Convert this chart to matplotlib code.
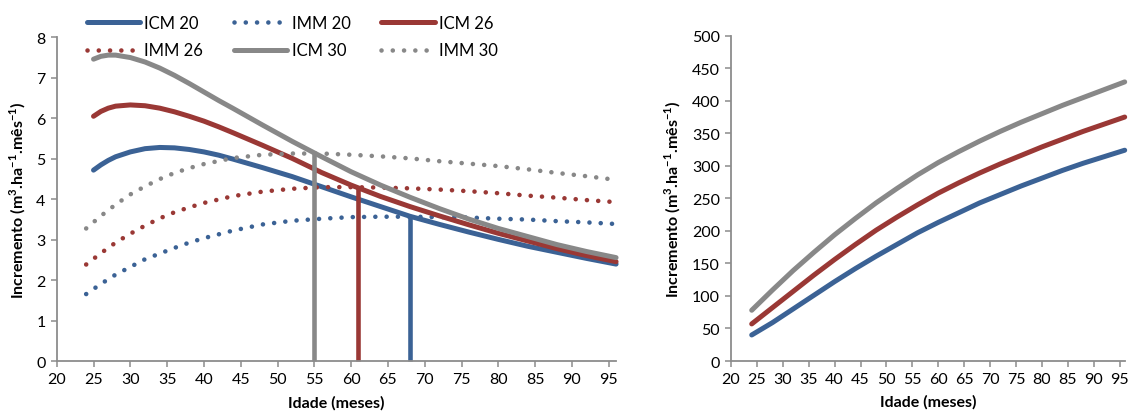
import matplotlib
matplotlib.use('Agg')
import matplotlib.pyplot as plt

plt.rcParams['font.family'] = ['Lato', 'DejaVu Sans']
plt.rcParams['mathtext.fontset'] = 'custom'
plt.rcParams['mathtext.rm'] = 'Lato'
plt.rcParams['mathtext.bf'] = 'Lato:bold'

# Idades (meses)
idade_icm = [25, 26, 27, 28, 30, 32, 34, 36, 38, 40, 42, 44, 48, 52, 56, 60, 64, 68, 72, 76, 80, 84, 88, 92, 96]
idade_imm = [24, 26, 28, 30, 32, 34, 36, 38, 40, 44, 48, 52, 56, 60, 64, 68, 72, 76, 80, 84, 88, 92, 96]
idade_prod = [24, 28, 32, 36, 40, 44, 48, 52, 56, 60, 64, 68, 72, 76, 80, 84, 88, 92, 96]

# Incremento corrente mensal (m3/ha/mes)
icm_20 = [4.72, 4.85, 4.96, 5.05, 5.17, 5.25, 5.28, 5.27, 5.23, 5.17, 5.09, 4.99, 4.78, 4.56, 4.31,
          4.06, 3.82, 3.58, 3.38, 3.19, 3.01, 2.84, 2.69, 2.54, 2.40]
icm_26 = [6.05, 6.17, 6.25, 6.30, 6.33, 6.31, 6.25, 6.16, 6.05, 5.93, 5.79, 5.64, 5.33, 5.01, 4.66,
          4.35, 4.07, 3.82, 3.59, 3.37, 3.16, 2.97, 2.78, 2.61, 2.46]
icm_30 = [7.46, 7.53, 7.56, 7.56, 7.50, 7.39, 7.24, 7.06, 6.86, 6.65, 6.44, 6.24, 5.83, 5.43, 5.05,
          4.68, 4.35, 4.05, 3.77, 3.51, 3.28, 3.08, 2.88, 2.71, 2.56]

# Incremento medio mensal (m3/ha/mes)
imm_20 = [1.66, 1.91, 2.14, 2.33, 2.52, 2.66, 2.80, 2.93, 3.04, 3.23, 3.38, 3.47, 3.52, 3.56, 3.57,
          3.57, 3.56, 3.55, 3.52, 3.50, 3.46, 3.43, 3.39]
imm_26 = [2.39, 2.67, 2.93, 3.15, 3.35, 3.53, 3.68, 3.80, 3.91, 4.08, 4.19, 4.26, 4.30, 4.30, 4.29,
          4.27, 4.24, 4.20, 4.15, 4.09, 4.04, 3.98, 3.93]
imm_30 = [3.28, 3.59, 3.87, 4.12, 4.32, 4.50, 4.65, 4.77, 4.87, 5.02, 5.10, 5.13, 5.13, 5.10, 5.06,
          5.01, 4.94, 4.88, 4.82, 4.74, 4.65, 4.57, 4.48]

# Idade tecnica de corte (ICM = IMM)
corte_idade = {'20': 68, '26': 61, '30': 55}
corte_valor = {'20': 3.57, '26': 4.29, '30': 5.14}

# Producao acumulada
prod_20 = [40, 59, 80, 101, 122, 142, 161, 179, 197, 213, 228, 243, 256, 269, 281, 293, 304, 314, 324]
prod_26 = [57, 82, 107, 132, 156, 179, 201, 221, 240, 258, 274, 289, 303, 316, 329, 341, 353, 364, 375]
prod_30 = [78, 109, 139, 167, 194, 219, 243, 265, 286, 305, 322, 338, 353, 367, 380, 393, 405, 417, 429]

azul = '#3b6295'
verm = '#9a3835'
cinza = '#888888'
eixo = '#8c8c8c'
pontos = (0, (0.01, 2.45))

fig = plt.figure(figsize=(11.3, 4.14), dpi=100)
ax1 = fig.add_axes([0.0502, 0.1249, 0.4950, 0.7826])
ax2 = fig.add_axes([0.6469, 0.1256, 0.3484, 0.7857])

lw = 3.6
lwd = 3.3
h_icm20, = ax1.plot(idade_icm, icm_20, color=azul, lw=lw, solid_capstyle='round', label='ICM 20')
h_imm20, = ax1.plot(idade_imm, imm_20, color=azul, lw=lwd, ls=pontos, dash_capstyle='round', label='IMM 20')
h_icm26, = ax1.plot(idade_icm, icm_26, color=verm, lw=lw, solid_capstyle='round', label='ICM 26')
h_imm26, = ax1.plot(idade_imm, imm_26, color=verm, lw=lwd, ls=pontos, dash_capstyle='round', label='IMM 26')
h_icm30, = ax1.plot(idade_icm, icm_30, color=cinza, lw=lw, solid_capstyle='round', label='ICM 30')
h_imm30, = ax1.plot(idade_imm, imm_30, color=cinza, lw=lwd, ls=pontos, dash_capstyle='round', label='IMM 30')

for k, c in [('30', cinza), ('26', verm), ('20', azul)]:
    ax1.plot([corte_idade[k], corte_idade[k]], [0, corte_valor[k]], color=c, lw=3.3, solid_capstyle='butt')

ax2.plot(idade_prod, prod_20, color=azul, lw=lw, solid_capstyle='round')
ax2.plot(idade_prod, prod_26, color=verm, lw=lw, solid_capstyle='round')
ax2.plot(idade_prod, prod_30, color=cinza, lw=lw, solid_capstyle='round')

ylabel = r'Incremento (m$^{\mathbf{3}}$.ha$^{\mathbf{-1}}$.mês$^{\mathbf{-1}}$)'
for ax, ymax, ystep in [(ax1, 8, 1), (ax2, 500, 50)]:
    ax.set_xlim(20, 96)
    ax.set_ylim(0, ymax)
    ax.set_xticks(range(20, 96, 5))
    ax.set_yticks(range(0, ymax + 1, ystep))
    for s in ['top', 'right']:
        ax.spines[s].set_visible(False)
    for s in ['left', 'bottom']:
        ax.spines[s].set_color(eixo)
        ax.spines[s].set_linewidth(1.3)
    ax.tick_params(direction='out', length=4, width=1.1, color=eixo, labelsize=11.5, pad=4)
    ax.set_xlabel('Idade (meses)', fontsize=11.5, fontweight='bold', labelpad=6)
    ax.set_ylabel(ylabel, fontsize=11.5, fontweight='bold', labelpad=6)
    for ln in ax.lines:
        ln.set_clip_on(False)

# ordem coluna a coluna para que as linhas fiquem ICM20/IMM20/ICM26 e IMM26/ICM30/IMM30
handles = [h_icm20, h_imm26, h_imm20, h_icm30, h_icm26, h_imm30]
fig.legend(handles=handles, labels=[h.get_label() for h in handles], ncol=3,
           loc='upper left', bbox_to_anchor=(0.0636, 0.998), frameon=False,
           fontsize=12, handlelength=3.2, handletextpad=0.25, columnspacing=1.85,
           labelspacing=0.7)

fig.savefig('out.png', dpi=100)
